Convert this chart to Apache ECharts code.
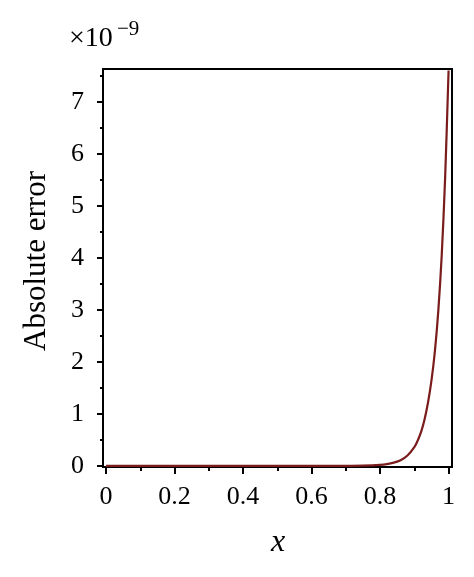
<!DOCTYPE html>
<html>
<head>
<meta charset="utf-8">
<script src="https://cdn.jsdelivr.net/npm/echarts@6/dist/echarts.min.js"></script>
<style>
  html, body { margin: 0; padding: 0; background: #fff; }
  #chart { width: 474px; height: 577px; }
</style>
</head>
<body>
<div id="chart"></div>
<script>
// values (units of 1e-9)
const xValues = [0, 0.1, 0.2, 0.3, 0.4, 0.5, 0.6, 0.7, 0.75, 0.8, 0.82, 0.84, 0.86, 0.88,
  0.9, 0.91, 0.92, 0.93, 0.94, 0.95, 0.96, 0.97, 0.98, 0.99, 1.0]
const errValues = [0, 0, 0, 0, 0, 0, 0, 0.002, 0.006, 0.02, 0.035, 0.063, 0.11, 0.2,
  0.36, 0.49, 0.66, 0.9, 1.22, 1.64, 2.2, 2.98, 4.05, 5.55, 7.6]
const xTickLabels = [0, 0.2, 0.4, 0.6, 0.8, 1]
const xMinorTicks = [0, 0.1, 0.2, 0.3, 0.4, 0.5, 0.6, 0.7, 0.8, 0.9, 1]
const yTickLabels = [0, 1, 2, 3, 4, 5, 6, 7]
const yMinorTicks = [0.5, 1.5, 2.5, 3.5, 4.5, 5.5, 6.5, 7.5]

const serif = '"Liberation Serif", "DejaVu Serif", serif'
const chart = echarts.init(document.getElementById('chart'), null, { renderer: 'canvas' })

const xRange = { min: -0.009, max: 1.01 }
const yRange = { min: -0.02, max: 7.63 }

chart.setOption({
  animation: false,
  grid: {
    left: 103, right: 22, top: 69, bottom: 110,
    show: true, borderColor: '#000', borderWidth: 2
  },
  xAxis: [{
    type: 'value', ...xRange,
    axisLine: { show: true, onZero: false, lineStyle: { color: '#000', width: 2 } },
    axisTick: { show: true, inside: false, length: 7, lineStyle: { color: '#000', width: 2 }, customValues: xTickLabels },
    axisLabel: { customValues: xTickLabels, color: '#000', fontFamily: serif, fontSize: 26, margin: 17 },
    splitLine: { show: false }
  }, {
    type: 'value', ...xRange, position: 'bottom',
    axisLine: { show: false, onZero: false },
    axisTick: { show: true, inside: false, length: 4, lineStyle: { color: '#000', width: 2 }, customValues: xMinorTicks },
    axisLabel: { show: false },
    splitLine: { show: false }
  }],
  yAxis: [{
    type: 'value', ...yRange,
    axisLine: { show: true, onZero: false, lineStyle: { color: '#000', width: 2 } },
    axisTick: { show: true, inside: false, length: 6, lineStyle: { color: '#000', width: 2 }, customValues: yTickLabels },
    axisLabel: { customValues: yTickLabels, color: '#000', fontFamily: serif, fontSize: 26, margin: 19 },
    splitLine: { show: false }
  }, {
    type: 'value', ...yRange, position: 'left',
    axisLine: { show: false, onZero: false },
    axisTick: { show: true, inside: false, length: 3, lineStyle: { color: '#000', width: 2 }, customValues: yMinorTicks },
    axisLabel: { show: false },
    splitLine: { show: false }
  }],
  series: [{
    type: 'line',
    data: xValues.map((x, i) => [x, errValues[i]]),
    smooth: 0.3,
    showSymbol: false,
    lineStyle: { color: '#7a1c1c', width: 2.2 }
  }],
  graphic: [
    {
      type: 'text', x: 69, y: 39,
      style: { text: '×10', fontSize: 28, fontFamily: serif, fill: '#000', align: 'left', verticalAlign: 'middle' }
    },
    {
      type: 'text', x: 117, y: 29,
      style: { text: '−9', fontSize: 21, fontFamily: serif, fill: '#000', align: 'left', verticalAlign: 'middle' }
    },
    {
      type: 'text', x: 37, y: 261, rotation: Math.PI / 2,
      style: { text: 'Absolute error', fontSize: 31, fontFamily: serif, fill: '#000', align: 'center', verticalAlign: 'middle' }
    },
    {
      type: 'text', x: 278, y: 543,
      style: { text: 'x', fontSize: 32, fontStyle: 'italic', fontFamily: serif, fill: '#000', align: 'center', verticalAlign: 'middle' }
    }
  ]
})
</script>
</body>
</html>
